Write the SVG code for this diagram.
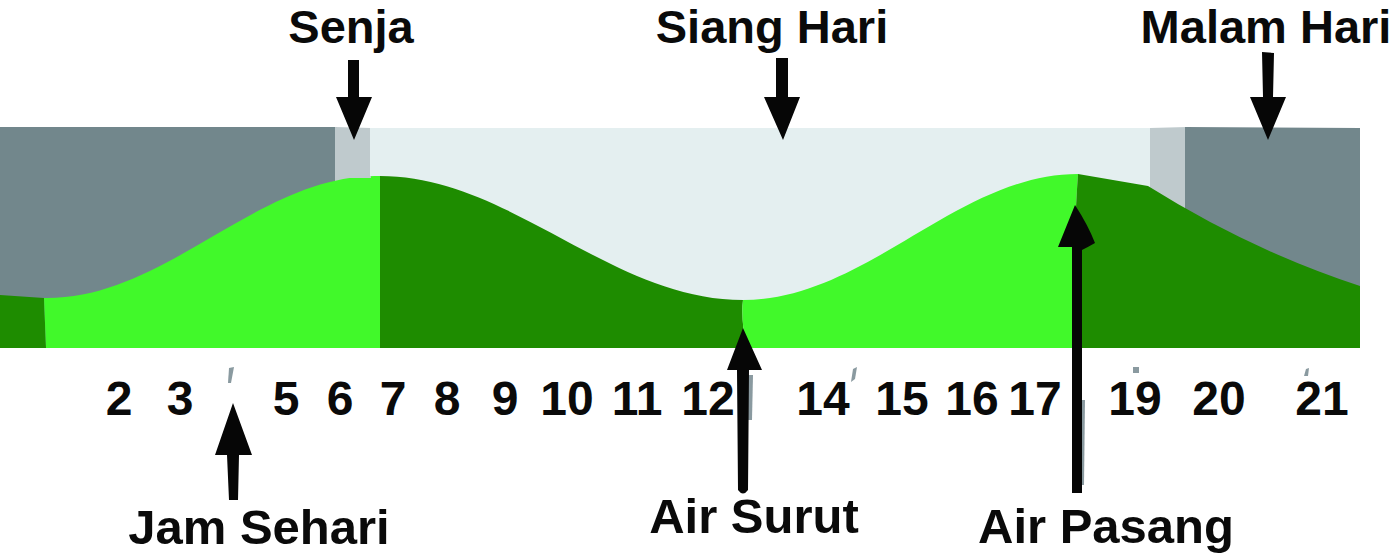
<svg xmlns="http://www.w3.org/2000/svg" width="1400" height="556" viewBox="0 0 1400 556">
<style>
.lbl{font-family:"Liberation Sans",Arial,sans-serif;font-weight:bold;font-size:49px;fill:#0a0a0a;text-anchor:middle}
.top{font-size:47px}
.num{font-family:"Liberation Sans",Arial,sans-serif;font-weight:bold;font-size:48px;fill:#0a0a0a;text-anchor:middle}
.arrow{fill:#060606}
.shadow{fill:#8a9aa0}
.night{fill:#72878c}
.dusk{fill:#bfcacd}
.day{fill:#e4eff0}
.lo{fill:#41f92a}
.hi{fill:#1e8c00}
</style>
<rect width="1400" height="556" fill="#ffffff"/>
<g id="chart">
  <rect class="night" x="0" y="127" width="337" height="221"/>
  <path class="dusk" d="M335,127 L371,128 L371,200 L335,200 Z"/>
  <rect class="day" x="370" y="128" width="782" height="220"/>
  <path class="dusk" d="M1150,128 L1187,127 L1187,220 L1150,220 Z"/>
  <path class="night" d="M1185,127 L1360,128 L1360,348 L1185,348 Z"/>
  <path class="hi" d="M0,295 L44,298 L46,348 L0,348 Z"/>
  <path class="lo" d="M44,298 C165,300 255,177 375,176 L380,176 L380,348 L46,348 Z"/>
  <path class="dusk" d="M335,165 Q336,178 348,178 L371,178 L371,176 L335,176 Z"/>
  <path class="hi" d="M380,176 C511,176 610,300 743,300 C741,315 744,330 745,348 L380,348 Z"/>
  <path class="lo" d="M743,300 C866,300 957,174 1078,174 C1074,230 1073,300 1073,348 L745,348 C744,330 741,315 743,300 Z"/>
  <path class="hi" d="M1078,174 L1148,186 Q1250,250 1360,286 L1360,348 L1073,348 C1073,300 1074,230 1078,174 Z"/>
</g>
<g id="hours">
  <text class="num" x="119" y="415">2</text>
  <text class="num" x="180" y="415">3</text>
  <text class="num" x="286" y="415">5</text>
  <text class="num" x="340" y="415">6</text>
  <text class="num" x="393" y="415">7</text>
  <text class="num" x="447" y="415">8</text>
  <text class="num" x="505" y="415">9</text>
  <text class="num" x="567" y="415">10</text>
  <text class="num" x="637" y="415">11</text>
  <text class="num" x="708" y="415">12</text>
  <text class="num" x="823" y="415">14</text>
  <text class="num" x="902" y="415">15</text>
  <text class="num" x="972" y="415">16</text>
  <text class="num" x="1035" y="415">17</text>
  <text class="num" x="1135" y="415">19</text>
  <text class="num" x="1219" y="415">20</text>
  <text class="num" x="1322" y="415">21</text>
  <path class="shadow" d="M229,368 L234,367 L231,383 L228,383 Z"/>
  <path class="shadow" d="M853,369 L857,367 L855,379 L851,382 Z"/>
  <rect class="shadow" x="1133" y="367" width="6" height="6"/>
  <path class="shadow" d="M1306,369 L1309,368 L1308,376 L1304,376 Z"/>
</g>
<g id="node-senja"><text class="lbl top" x="351" y="43">Senja</text></g>
<g id="node-siang"><text class="lbl top" x="772" y="43">Siang Hari</text></g>
<g id="node-malam"><text class="lbl top" x="1266" y="43">Malam Hari</text></g>
<g id="node-jam"><text class="lbl" x="259" y="544">Jam Sehari</text></g>
<g id="node-surut"><text class="lbl" x="754" y="533">Air Surut</text></g>
<g id="node-pasang"><text class="lbl" x="1106" y="543">Air Pasang</text></g>
<g id="connectors">
  <path class="arrow" d="M348,60 L359,60 L359,97 L372,97 L354,140 L336,97 L348,97 Z"/>
  <path class="arrow" d="M776,58 L788,58 L788,97 L800,97 L783,140 L764,97 L776,97 Z"/>
  <path class="arrow" d="M1262,52 L1274,53 L1273,97 L1286,97 L1268,140 L1250,97 L1263,97 Z"/>
  <path class="arrow" d="M233,403 L252,455 L239,455 L238,500 L229,500 L227,455 L215,455 Z"/>
  <path class="shadow" d="M748,375 L753,375 L752,420 L748,420 Z"/>
  <path class="arrow" d="M743,328 L762,370 L749,370 L748,490 Q743,497 738,490 L737,370 L727,370 Z"/>
  <path class="shadow" d="M1081,400 L1085,400 L1084,485 L1081,485 Z"/>
  <path class="arrow" d="M1075,205 Q1088,225 1095,243 Q1088,247 1082,250 L1082,493 L1072,493 L1072,247 L1058,247 Z"/>
</g>
</svg>
